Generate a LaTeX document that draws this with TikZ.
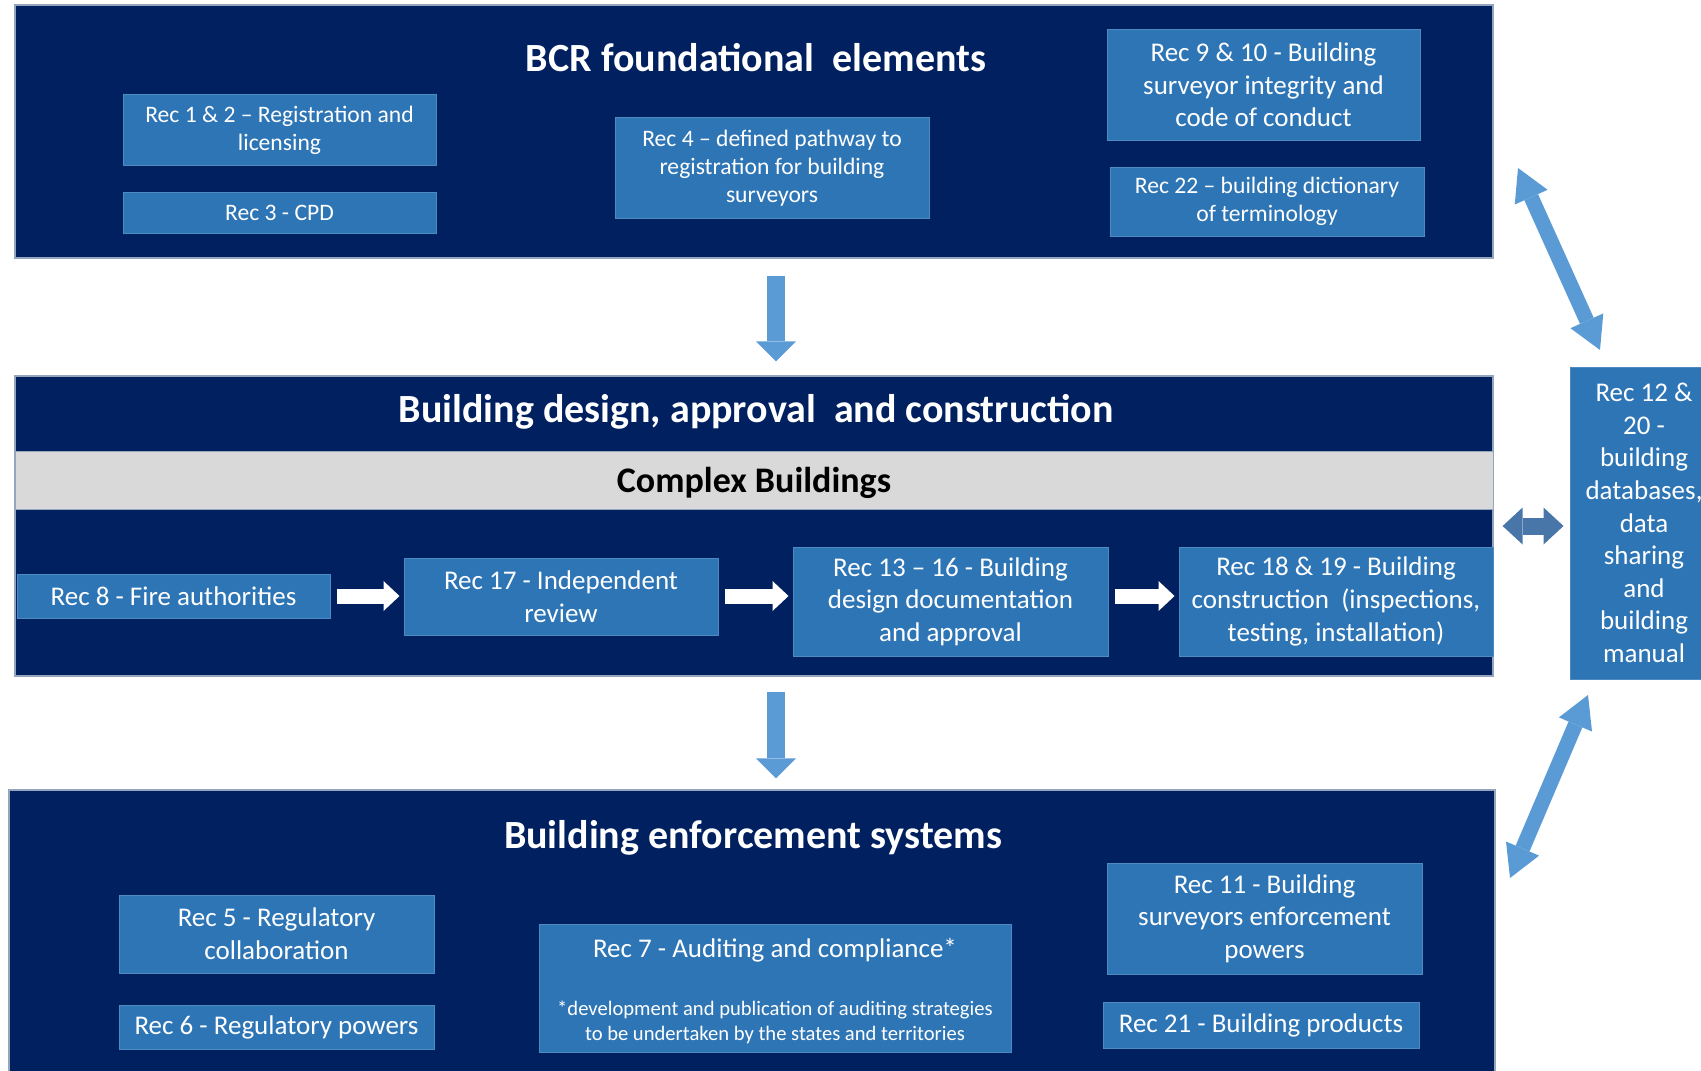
\documentclass[tikz,border=0pt]{standalone}
\usepackage{fontspec}
\setmainfont{Carlito}
\usetikzlibrary{arrows.meta}
\definecolor{navy}{HTML}{002060}
\definecolor{recblue}{HTML}{2E75B6}
\definecolor{arrowblue}{HTML}{5B9BD5}
\definecolor{steelarrow}{RGB}{72,118,168}
\definecolor{bandgrey}{HTML}{D9D9D9}
\definecolor{paneledge}{RGB}{150,165,190}

\begin{document}
\begin{tikzpicture}[x=0.5pt,y=-0.5pt,
  panel/.style={draw=paneledge,line width=0.6pt,fill=navy,inner sep=0pt},
  rec/.style={fill=recblue,draw=recblue!85!white,line width=0.5pt,text=white,align=center,inner sep=0pt,font=\fontsize{13.5}{16.3}\selectfont},
  recsmall/.style={rec,font=\fontsize{11.8}{14}\selectfont},
  title/.style={text=white,inner sep=0pt,text height=13pt,text depth=0pt,font=\fontsize{20}{24}\selectfont\bfseries}]
\tikzstyle{block arrow} = [draw=arrowblue,line width=9pt,-{Triangle[length=10pt,width=20pt,line width=0pt]}]
\tikzstyle{link arrow} = [draw=arrowblue,line width=7.5pt,{Triangle[length=16pt,width=18pt,line width=0pt]}-{Triangle[length=16pt,width=18pt,line width=0pt]}]
\tikzstyle{steel arrow} = [draw=steelarrow,line width=8.5pt,{Triangle[length=10pt,width=18.5pt,line width=0pt]}-{Triangle[length=10pt,width=18.5pt,line width=0pt]}]
\tikzstyle{flow arrow} = [draw=white,line width=7.5pt,-{Triangle[length=8pt,width=15pt,line width=0pt]},shorten <=3pt,shorten >=2pt]

\useasboundingbox (0,0) rectangle (1701,1070);

% Link ends
\coordinate (linkA1) at (1518,168);
\coordinate (linkA2) at (1600,350);
\coordinate (linkB1) at (1588,695);
\coordinate (linkB2) at (1510,878);

% Panels
\node[panel,minimum width=739pt,minimum height=126.5pt] (found) at (754,131.5) {};
\node[panel,minimum width=739pt,minimum height=150pt] (mid) at (754,526) {};
\node[panel,minimum width=743pt,minimum height=142.5pt] (enf) at (752,932.5) {};
\node[fill=bandgrey,draw=paneledge,line width=0.5pt,inner sep=0pt,minimum width=739pt,minimum height=29pt] (band) at (754,480) {};

% Titles
\node[title] (foundtitle) at (756,59) {BCR foundational\ \ elements};
\node[title] (midtitle) at (756,409) {Building design, approval\ \ and construction};
\node[title] (enftitle) at (753,835) {Building enforcement systems};
\node[title,text=black,text height=11.6pt,font=\fontsize{18}{22}\selectfont\bfseries] (complex) at (754,481) {Complex Buildings};

% Foundational elements
\node[recsmall,minimum width=156.5pt,minimum height=35pt] (rec12) at (279.5,130) {Rec 1 \& 2 – Registration and\\licensing};
\node[recsmall,minimum width=156.5pt,minimum height=20.5pt] (rec3) at (279.5,212.5) {Rec 3 - CPD};
\node[recsmall,minimum width=157pt,minimum height=50pt] (rec4) at (772,168) {Rec 4 – defined pathway to\\registration for building\\surveyors};
\node[rec,minimum width=156.5pt,minimum height=55pt] (rec910) at (1263.5,85) {Rec 9 \& 10 - Building\\surveyor integrity and\\code of conduct};
\node[recsmall,minimum width=157pt,minimum height=34.5pt] (rec22) at (1267,201.5) {Rec 22 – building dictionary\\of terminology};

% Design, approval and construction
\node[rec,minimum width=156.5pt,minimum height=22pt] (rec8) at (173.5,596) {Rec 8 - Fire authorities};
\node[rec,minimum width=157pt,minimum height=38.5pt] (rec17) at (561,596.5) {Rec 17 - Independent\\review};
\node[rec,minimum width=157.5pt,minimum height=54.5pt] (rec1316) at (950.5,601.5) {Rec 13 – 16 - Building\\design documentation\\and approval};
\node[rec,minimum width=157pt,minimum height=54.5pt] (rec1819) at (1336,601.5) {Rec 18 \& 19 - Building\\construction\ \ (inspections,\\testing, installation)};

% Databases
\node[rec,minimum width=74pt,minimum height=156pt] (rec1220) at (1644,523) {Rec 12 \&\\20 -\\building\\databases,\\data\\sharing\\and\\building\\manual};

% Enforcement systems
\node[rec,minimum width=157.5pt,minimum height=39pt] (rec5) at (276.5,934) {Rec 5 - Regulatory\\collaboration};
\node[rec,minimum width=157.5pt,minimum height=22pt] (rec6) at (276.5,1027) {Rec 6 - Regulatory powers};
\node[rec,minimum width=236pt,minimum height=64pt] (rec7) at (775,988) {};
\node[text=white,inner sep=0pt,font=\fontsize{13.5}{16.3}\selectfont] (rec7main) at (775,950) {Rec 7 - Auditing and compliance*};
\node[text=white,inner sep=0pt,align=center,font=\fontsize{10.3}{12.5}\selectfont] (rec7note) at (775,1022.5) {*development and publication of auditing strategies\\to be undertaken by the states and territories};
\node[rec,minimum width=157.5pt,minimum height=55.5pt] (rec11) at (1264.5,918.5) {Rec 11 - Building\\surveyors enforcement\\powers};
\node[rec,minimum width=158pt,minimum height=23pt] (rec21) at (1261,1025) {Rec 21 - Building products};

% Down arrows
\draw[block arrow,shorten <=8.5pt,shorten >=7pt] ([xshift=11pt]found.south) -- ([xshift=11pt]found.south |- mid.north);
\draw[block arrow,shorten <=7.5pt,shorten >=5.5pt] ([xshift=11pt]mid.south) -- ([xshift=11pt]mid.south |- enf.north);

% Flow arrows
\draw[flow arrow] (rec8.east) -- (rec17.west |- rec8.east);
\draw[flow arrow] (rec17.east |- rec8.east) -- (rec1316.west |- rec8.east);
\draw[flow arrow] (rec1316.east |- rec8.east) -- (rec1819.west |- rec8.east);

% Links to databases
\draw[steel arrow,shorten <=4.5pt,shorten >=3pt] (mid.east) -- (mid.east -| rec1220.west);
\draw[link arrow] (linkA1) -- (linkA2);
\draw[link arrow] (linkB1) -- (linkB2);

\end{tikzpicture}
\end{document}
